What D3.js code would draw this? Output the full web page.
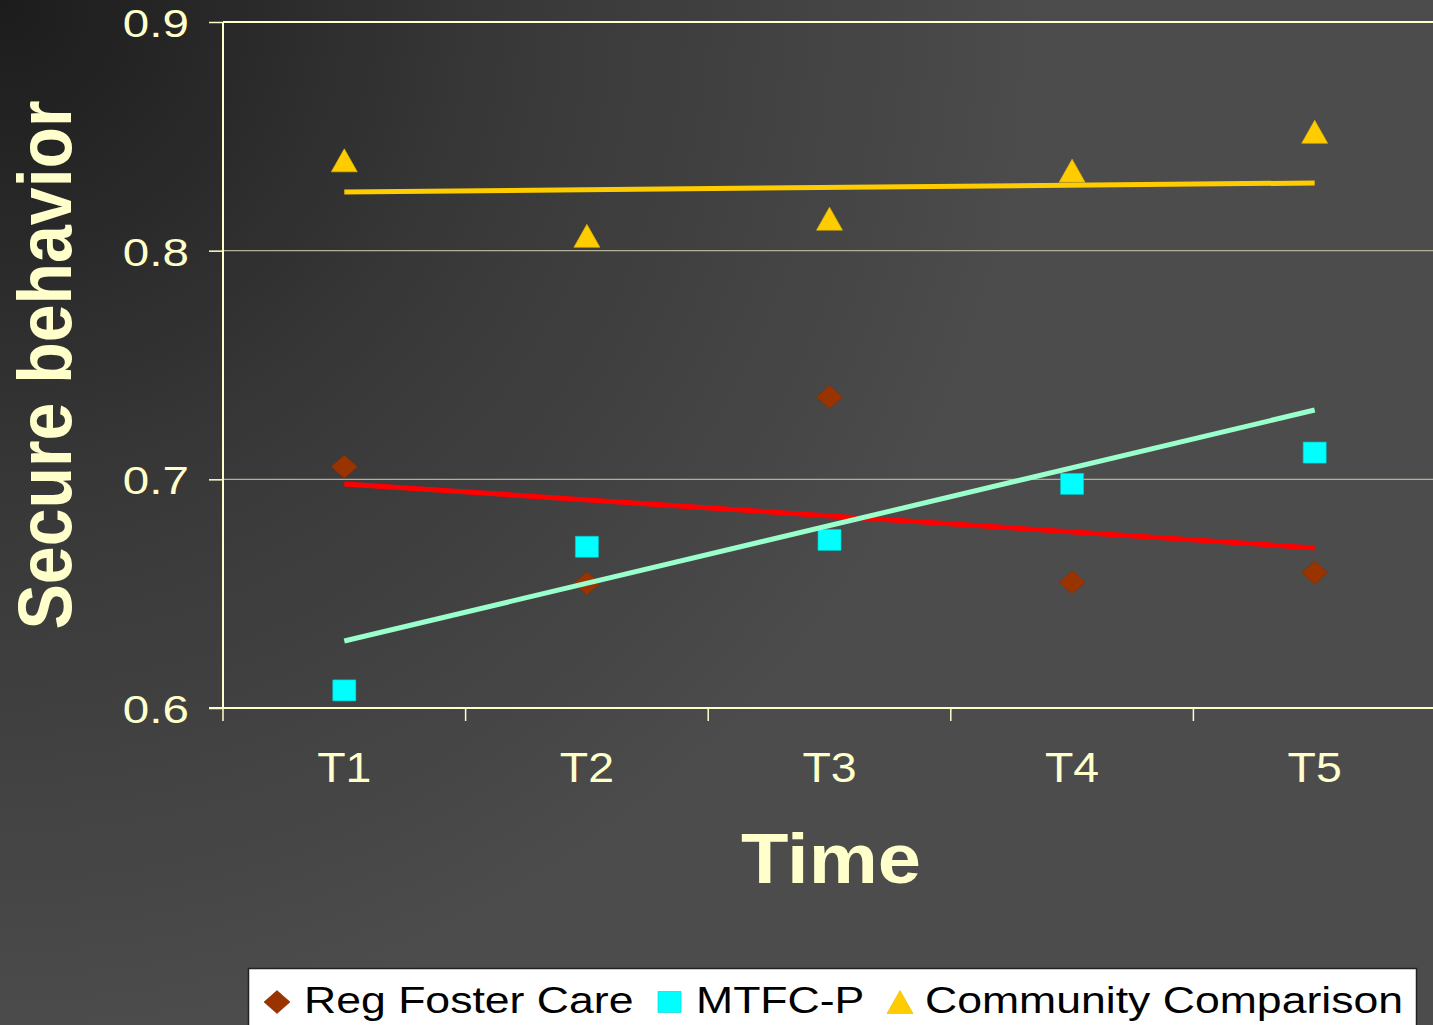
<!DOCTYPE html>
<html>
<head>
<meta charset="utf-8">
<script src="https://cdn.jsdelivr.net/npm/d3@7"></script>
<style>
  html, body { margin: 0; padding: 0; background: #4a4a4a; }
  svg { display: block; }
</style>
</head>
<body>
<svg id="chart" width="1433" height="1025"></svg>
<script>
// ---- data ----
const categories = ["T1", "T2", "T3", "T4", "T5"];
const regFosterCare = [0.7055, 0.6545, 0.736, 0.655, 0.6592];
const mtfcP = [0.6077, 0.6705, 0.6735, 0.698, 0.7117];
const communityComparison = [0.8395, 0.8065, 0.814, 0.835, 0.852];
// trend line values at first and last time point
const trendReg = [0.698, 0.670];
const trendMtfc = [0.6293, 0.7303];
const trendComm = [0.8257, 0.8296];
const yTicks = [0.6, 0.7, 0.8, 0.9];
const seriesNames = ["Reg Foster Care", "MTFC-P", "Community Comparison"];

const W = 1433, H = 1025;
const svg = d3.select("#chart");
const txt = "#ffffcc";

// background
const defs = svg.append("defs");
const rg = defs.append("radialGradient").attr("id", "bg")
  .attr("gradientUnits", "userSpaceOnUse")
  .attr("cx", 0).attr("cy", 0).attr("r", 1050);
rg.append("stop").attr("offset", "0").attr("stop-color", "#1c1c1c");
rg.append("stop").attr("offset", "0.5").attr("stop-color", "#393939");
rg.append("stop").attr("offset", "1").attr("stop-color", "#4c4c4c");
svg.append("rect").attr("width", W).attr("height", H).attr("fill", "url(#bg)");

// scales
const x = d3.scaleBand().domain(categories).range([223, 1436]);
const cx = c => x(c) + x.bandwidth() / 2;
const y = d3.scaleLinear().domain([0.6, 0.9]).range([708, 22]);

// gridlines
svg.append("g").selectAll("line").data(yTicks.filter(t => t > 0.6 && t < 0.9)).join("line")
  .attr("x1", 223).attr("x2", W).attr("y1", d => y(d)).attr("y2", d => y(d))
  .attr("stroke", "#b4b096").attr("stroke-width", 1.3);

// plot border top
svg.append("line").attr("x1", 223).attr("x2", W).attr("y1", y(0.9)).attr("y2", y(0.9))
  .attr("stroke", txt).attr("stroke-width", 2);

// y axis
const yAxis = svg.append("g").attr("transform", "translate(223,0)")
  .call(d3.axisLeft(y).tickValues(yTicks).tickSize(14).tickFormat(""));
yAxis.select(".domain").attr("stroke", txt).attr("stroke-width", 2).attr("d", `M0,${y(0.9)}V${y(0.6)}`);
yAxis.selectAll(".tick line").attr("stroke", txt).attr("stroke-width", 1.5);

svg.append("g").selectAll("g").data(yTicks).join("g")
  .attr("transform", d => `translate(189,${y(d) + 15}) scale(1.22,1)`)
  .append("text").attr("text-anchor", "end")
  .attr("font-family", "Liberation Sans, Arial, sans-serif").attr("font-size", 39)
  .attr("fill", txt).text(d => d3.format(".1f")(d));

// x axis
const xAxis = svg.append("g").attr("transform", "translate(0,708)")
  .call(d3.axisBottom(x).tickSize(0).tickFormat(""));
xAxis.select(".domain").attr("stroke", txt).attr("stroke-width", 2).attr("d", `M209,0H${W}`);
const tickPos = categories.map(c => x(c)).concat([x.range()[1]]);
xAxis.append("g").selectAll("line").data(tickPos).join("line")
  .attr("x1", d => d).attr("x2", d => d).attr("y1", 0).attr("y2", 13)
  .attr("stroke", txt).attr("stroke-width", 1.5);

svg.append("g").selectAll("g").data(categories).join("g")
  .attr("transform", d => `translate(${cx(d)},782) scale(1.08,1)`)
  .append("text").attr("text-anchor", "middle")
  .attr("font-family", "Liberation Sans, Arial, sans-serif").attr("font-size", 43)
  .attr("fill", txt).text(d => d);

// axis titles
svg.append("g").attr("transform", "translate(831,883) scale(1.11,1)")
  .append("text").attr("text-anchor", "middle")
  .attr("font-family", "Liberation Sans, Arial, sans-serif").attr("font-weight", "bold")
  .attr("font-size", 70).attr("fill", txt).text("Time");

svg.append("g").attr("transform", "translate(71,365) scale(1.12,1) rotate(-90)")
  .append("text").attr("text-anchor", "middle")
  .attr("font-family", "Liberation Sans, Arial, sans-serif").attr("font-weight", "bold")
  .attr("font-size", 68).attr("fill", txt).text("Secure behavior");

// marker shapes
const diamond = (w, h) => `M0,${-h/2}L${w/2},0L0,${h/2}L${-w/2},0Z`;
const square = (w, h) => `M${-w/2},${-h/2}H${w/2}V${h/2}H${-w/2}Z`;
const triangle = (w, h) => `M0,${-h/2}L${w/2},${h/2}H${-w/2}Z`;

const series = [
  { vals: regFosterCare, path: diamond(26, 23), fill: "#993300", stroke: "#8a2e00", trend: trendReg, tcolor: "#ff0000" },
  { vals: mtfcP, path: square(23, 21), fill: "#00ffff", stroke: "#00cccc", trend: trendMtfc, tcolor: "#99ffcc" },
  { vals: communityComparison, path: triangle(26, 23), fill: "#ffcc00", stroke: "#e6b800", trend: trendComm, tcolor: "#ffcc00" }
];

series.forEach(s => {
  svg.append("g").selectAll("path").data(s.vals).join("path")
    .attr("transform", (d, i) => `translate(${cx(categories[i])},${y(d)})`)
    .attr("d", s.path).attr("fill", s.fill).attr("stroke", s.stroke).attr("stroke-width", 0.6);
});

const line = d3.line().x(d => cx(d[0])).y(d => y(d[1]));
series.forEach(s => {
  svg.append("path")
    .attr("d", line([[categories[0], s.trend[0]], [categories[categories.length - 1], s.trend[1]]]))
    .attr("stroke", s.tcolor).attr("stroke-width", 5).attr("fill", "none");
});

// legend
const lg = svg.append("g");
lg.append("rect").attr("x", 248.5).attr("y", 968.5).attr("width", 1168).attr("height", 80)
  .attr("fill", "#ffffff").attr("stroke", "#222").attr("stroke-width", 1.5);
const legendItems = [
  { name: seriesNames[0], mx: 277, tx: 304, s: series[0] },
  { name: seriesNames[1], mx: 669.5, tx: 696, s: series[1] },
  { name: seriesNames[2], mx: 900, tx: 925, s: series[2] }
];
legendItems.forEach(it => {
  lg.append("path").attr("transform", `translate(${it.mx},1002)`)
    .attr("d", it.s.path).attr("fill", it.s.fill).attr("stroke", it.s.stroke).attr("stroke-width", 0.6);
  lg.append("g").attr("transform", `translate(${it.tx},1013) scale(1.205,1)`)
    .append("text").attr("font-family", "Liberation Sans, Arial, sans-serif")
    .attr("font-size", 37).attr("fill", "#000").text(it.name);
});
</script>
</body>
</html>
